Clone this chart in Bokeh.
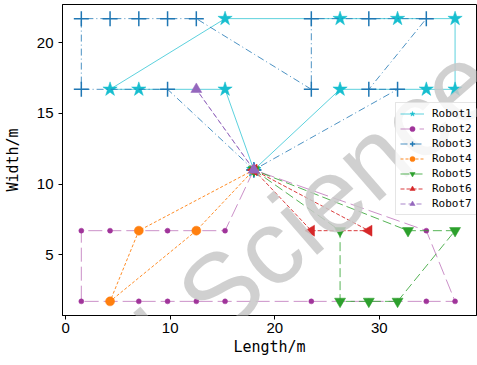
from bokeh.plotting import figure
from bokeh.models import Legend, LegendItem, Label, Range1d
from bokeh.embed import file_html
from bokeh.resources import INLINE
import math

# Route waypoints (x = length in m, y = width in m) for each robot; all start/end at the hub
robot1_x = [18, 15.25, 7.0, 4.25, 15.25, 26.25, 31.75, 37.25, 37.25, 34.5, 26.25, 18]
robot1_y = [11, 16.7, 16.7, 16.7, 21.7, 21.7, 21.7, 21.7, 16.7, 16.7, 16.7, 11]

robot2_x = [18, 15.25, 12.5, 9.75, 7.0, 4.25, 1.5, 1.5, 4.25, 7.0, 9.75, 12.5, 15.25,
            23.5, 26.25, 29.0, 31.75, 34.5, 37.25, 34.5, 18]
robot2_y = [11, 6.7, 6.7, 6.7, 6.7, 6.7, 6.7, 1.7, 1.7, 1.7, 1.7, 1.7, 1.7,
            1.7, 1.7, 1.7, 1.7, 1.7, 1.7, 6.7, 11]

robot3_x = [18, 9.75, 1.5, 1.5, 4.25, 7.0, 9.75, 12.5, 23.5, 23.5, 29.0, 34.5, 29.0, 31.75, 18]
robot3_y = [11, 16.7, 16.7, 21.7, 21.7, 21.7, 21.7, 21.7, 16.7, 21.7, 21.7, 21.7, 16.7, 16.7, 11]

robot4_x = [18, 7.0, 4.25, 12.5, 18]
robot4_y = [11, 6.7, 1.7, 6.7, 11]

robot5_x = [18, 26.25, 26.25, 29.0, 31.75, 37.25, 32.75, 18]
robot5_y = [11, 6.7, 1.7, 1.7, 1.7, 6.7, 6.7, 11]

robot6_x = [18, 23.5, 29.0, 18]
robot6_y = [11, 6.7, 6.7, 11]

robot7_x = [18, 12.5, 18]
robot7_y = [11, 16.7, 11]

x_ticks = [0, 10, 20, 30]
y_ticks = [5, 10, 15, 20]

p = figure(width=477, height=365,
           x_range=Range1d(-0.3, 39.3), y_range=Range1d(0.7, 22.7),
           output_backend="svg", toolbar_location=None,
           min_border_left=60, min_border_right=1, min_border_top=4, min_border_bottom=50)

p.grid.visible = False
p.outline_line_color = "black"
p.outline_line_width = 1
p.background_fill_color = "white"
p.border_fill_color = "white"

# (label, x, y, color, line alpha, dash, marker, size, marker angle)
styles = [
    ("Robot1", robot1_x, robot1_y, "#17becf", 0.7, "solid", "star", 15, 0.0),
    ("Robot2", robot2_x, robot2_y, "#a0349a", 0.55, "14 5", "circle", 5, 0.0),
    ("Robot3", robot3_x, robot3_y, "#1f77b4", 0.8, "7 3 1 3", "cross", 15, 0.0),
    ("Robot4", robot4_x, robot4_y, "#ff7f0e", 0.9, "3 2", "circle", 9, 0.0),
    ("Robot5", robot5_x, robot5_y, "#2ca02c", 0.8, "9 4", "inverted_triangle", 11, 0.0),
    ("Robot6", robot6_x, robot6_y, "#d62728", 0.9, "4 2", "triangle", 11, math.pi / 2),
    ("Robot7", robot7_x, robot7_y, "#9467bd", 0.8, "5 3", "triangle", 11, 0.0),
]

items = []
for name, xs, ys, color, lalpha, dash, marker, size, ang in styles:
    lr = p.line(xs, ys, line_color=color, line_alpha=lalpha, line_width=1, line_dash=dash)
    if marker == "cross":
        sr = p.scatter(xs, ys, marker=marker, size=size, line_color=color, line_width=1.5,
                       fill_color=color)
    else:
        sr = p.scatter(xs, ys, marker=marker, size=size, fill_color=color, line_color=color,
                       line_width=0.5, angle=ang)
    items.append(LegendItem(label=name, renderers=[lr, sr]))

legend = Legend(items=items, location=(333, 100),
                glyph_width=24, glyph_height=13, label_height=13, spacing=2,
                padding=4, margin=0, label_standoff=8,
                label_text_font="DejaVu Sans Mono", label_text_font_size="11px",
                label_text_color="black",
                border_line_color="#cccccc", border_line_width=1,
                background_fill_color="white", background_fill_alpha=0.8)
p.add_layout(legend)

for ax in (p.xaxis[0], p.yaxis[0]):
    ax.major_label_text_font = "Liberation Sans"
    ax.major_label_text_font_size = "15px"
    ax.major_label_text_color = "black"
    ax.major_tick_out = 4
    ax.major_tick_in = 0
    ax.minor_tick_out = 0
    ax.minor_tick_in = 0
    ax.axis_line_color = "black"
    ax.major_tick_line_color = "black"
    ax.axis_label_text_font = "DejaVu Sans Mono"
    ax.axis_label_text_font_size = "15px"
    ax.axis_label_text_font_style = "normal"
    ax.axis_label_text_color = "black"

p.xaxis.ticker = x_ticks
p.yaxis.ticker = y_ticks
p.xaxis.axis_label = "Length/m"
p.yaxis.axis_label = "Width/m"
p.xaxis.major_label_standoff = 3
p.xaxis.axis_label_standoff = 2
p.yaxis.major_label_standoff = 5
p.yaxis.axis_label_standoff = 12

# Publisher watermark across the chart
watermark = Label(x=4.2, y=-4.3, text="al Science P", angle=math.radians(41),
                  text_font="Liberation Sans", text_font_size="106px",
                  text_color="#c8c8c8", text_alpha=0.85,
                  text_align="left", text_baseline="alphabetic", level="overlay")
p.add_layout(watermark)

open("out.html", "w").write(file_html(p, INLINE))
